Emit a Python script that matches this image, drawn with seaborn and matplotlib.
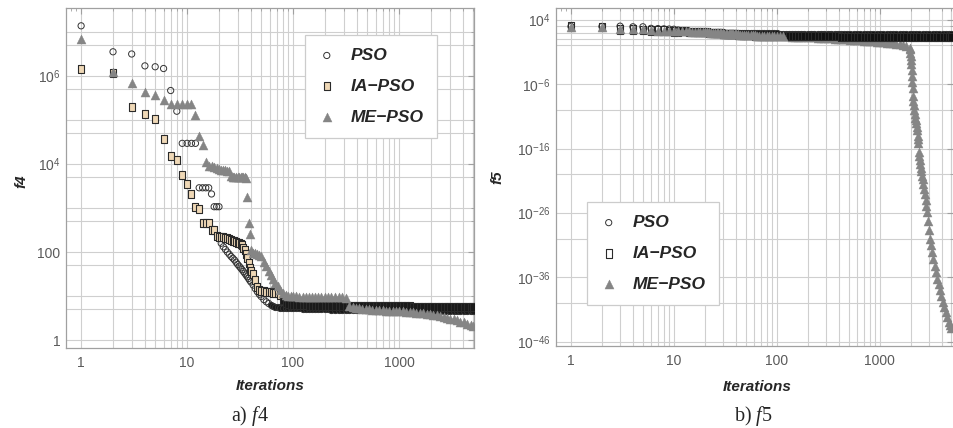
import numpy as np
import pandas as pd
import matplotlib
matplotlib.use("Agg")
import matplotlib.pyplot as plt
from matplotlib.path import Path
from matplotlib.ticker import NullFormatter, FixedLocator
import seaborn as sns

# ---------------- data (log10 of the objective value) ----------------
iters = [1, 2, 3, 4, 5, 6, 7, 8, 9, 10,
         11, 12, 13, 14, 15, 16, 17, 18, 19, 20,
         21, 22, 23, 24, 25, 26, 27, 28, 29, 30,
         31, 32, 33, 34, 35, 36, 37, 38, 39, 40,
         42, 44, 46, 48, 50, 53, 56, 59, 62, 65, 68, 72, 76, 80, 85, 90, 95, 100,
         107, 115, 123, 132, 141, 150, 160, 172, 185, 200,
         215, 230, 250, 270, 290, 315, 340, 365, 390, 420,
         450, 485, 520, 560, 600, 650, 700, 750, 810, 870,
         940, 1010, 1090, 1170, 1260, 1360, 1460, 1570, 1690, 1820,
         1960, 2110, 2270, 2440, 2630, 2830, 3050, 3280, 3530, 3800,
         4090, 4400, 4740, 5000]

f4_pso = [7.14, 6.55, 6.50, 6.23, 6.21, 6.17, 5.67, 5.20, 4.47, 4.47,
          4.47, 4.47, 3.46, 3.46, 3.46, 3.46, 3.32, 3.03, 3.03, 3.03,
          2.20, 2.12, 2.06, 2.00, 1.95, 1.90, 1.86, 1.82, 1.77, 1.72,
          1.68, 1.64, 1.60, 1.56, 1.52, 1.48, 1.44, 1.40, 1.36, 1.32,
          1.25, 1.17, 1.10, 1.04, 0.99, 0.92, 0.87, 0.83, 0.80, 0.78, 0.76, 0.75, 0.74, 0.73, 0.73, 0.72, 0.72, 0.72,
          0.72, 0.72, 0.71, 0.71, 0.71, 0.71, 0.70, 0.70, 0.70, 0.70,
          0.70, 0.69, 0.69, 0.69, 0.69, 0.69, 0.68, 0.68, 0.68, 0.68,
          0.68, 0.68, 0.68, 0.68, 0.67, 0.67, 0.67, 0.67, 0.67, 0.67,
          0.67, 0.67, 0.67, 0.67, 0.67, 0.66, 0.66, 0.66, 0.66, 0.66,
          0.66, 0.66, 0.66, 0.66, 0.66, 0.66, 0.66, 0.66, 0.66, 0.66,
          0.66, 0.66, 0.66, 0.66]

f4_iapso = [6.16, 6.06, 5.29, 5.14, 5.02, 4.56, 4.18, 4.09, 3.75, 3.54,
            3.31, 3.03, 2.97, 2.67, 2.67, 2.67, 2.50, 2.50, 2.36, 2.35,
            2.35, 2.34, 2.33, 2.31, 2.29, 2.27, 2.25, 2.24, 2.22, 2.21,
            2.20, 2.18, 2.15, 2.10, 2.04, 1.96, 1.86, 1.75, 1.64, 1.58,
            1.50, 1.36, 1.20, 1.13, 1.12, 1.11, 1.10, 1.10, 1.09, 1.08, 1.07, 1.06, 1.03, 0.92, 0.85, 0.82, 0.80, 0.79,
            0.79, 0.79, 0.79, 0.79, 0.78, 0.78, 0.78, 0.78, 0.78, 0.78,
            0.78, 0.78, 0.78, 0.78, 0.78, 0.77, 0.77, 0.77, 0.77, 0.77,
            0.77, 0.77, 0.77, 0.77, 0.77, 0.77, 0.77, 0.77, 0.77, 0.77,
            0.77, 0.77, 0.77, 0.77, 0.77, 0.76, 0.76, 0.76, 0.76, 0.76,
            0.76, 0.76, 0.76, 0.76, 0.76, 0.76, 0.76, 0.76, 0.76, 0.76,
            0.76, 0.76, 0.76, 0.76]

f4_mepso = [6.83, 6.10, 5.85, 5.64, 5.57, 5.45, 5.36, 5.36, 5.36, 5.36,
            5.36, 5.11, 4.64, 4.43, 4.05, 3.96, 3.95, 3.94, 3.90, 3.88,
            3.87, 3.86, 3.86, 3.85, 3.84, 3.72, 3.71, 3.71, 3.70, 3.70,
            3.70, 3.70, 3.70, 3.70, 3.70, 3.69, 3.26, 2.65, 2.42, 2.05,
            1.98, 1.97, 1.96, 1.94, 1.90, 1.78, 1.68, 1.58, 1.48, 1.39, 1.30, 1.22, 1.14, 1.08, 1.03, 1.01, 1.00, 1.00,
            1.00, 0.99, 0.99, 0.99, 0.99, 0.98, 0.98, 0.98, 0.98, 0.98,
            0.98, 0.97, 0.97, 0.97, 0.97, 0.96, 0.78, 0.75, 0.73, 0.72,
            0.71, 0.70, 0.70, 0.69, 0.69, 0.68, 0.68, 0.67, 0.67, 0.66,
            0.66, 0.65, 0.65, 0.64, 0.64, 0.63, 0.62, 0.62, 0.61, 0.60,
            0.59, 0.58, 0.56, 0.55, 0.53, 0.51, 0.49, 0.47, 0.45, 0.42,
            0.40, 0.37, 0.34, 0.32]

f5_pso = [2.95, 2.95, 3.00, 2.90, 2.90, 2.66, 2.62, 2.58, 2.55, 2.52,
          2.40, 2.36, 2.32, 2.28, 2.25, 2.22, 2.20, 2.18, 2.16, 2.14,
          2.12, 2.10, 2.09, 2.08, 2.07, 2.06, 2.05, 2.04, 2.03, 2.02,
          2.01, 2.00, 2.00, 1.99, 1.99, 1.98, 1.98, 1.97, 1.97, 1.96,
          1.96, 1.95, 1.95, 1.94, 1.94, 1.93, 1.93, 1.92, 1.92, 1.91, 1.91, 1.90, 1.90, 1.89, 1.89, 1.88, 1.88, 1.87,
          1.85, 1.84, 1.84, 1.84, 1.83, 1.83, 1.83, 1.82, 1.82, 1.82,
          1.81, 1.81, 1.81, 1.80, 1.80, 1.80, 1.80, 1.79, 1.79, 1.79,
          1.79, 1.79, 1.78, 1.78, 1.78, 1.78, 1.78, 1.77, 1.77, 1.77,
          1.77, 1.77, 1.76, 1.76, 1.76, 1.76, 1.76, 1.75, 1.75, 1.75,
          1.75, 1.75, 1.75, 1.75, 1.75, 1.75, 1.75, 1.75, 1.75, 1.75,
          1.75, 1.75, 1.75, 1.75]

f5_iapso = [2.90, 2.88, 2.50, 2.46, 2.42, 2.36, 2.32, 2.29, 2.26, 2.23,
            2.22, 2.20, 2.18, 2.16, 2.14, 2.12, 2.10, 2.08, 2.06, 2.04,
            2.02, 2.00, 1.98, 1.96, 1.94, 1.92, 1.90, 1.88, 1.86, 1.84,
            1.82, 1.80, 1.78, 1.77, 1.76, 1.75, 1.74, 1.73, 1.72, 1.71,
            1.70, 1.68, 1.66, 1.64, 1.62, 1.60, 1.58, 1.56, 1.54, 1.52, 1.50, 1.48, 1.47, 1.46, 1.45, 1.44, 1.43, 1.42,
            1.41, 1.40, 1.47, 1.46, 1.45, 1.45, 1.44, 1.44, 1.43, 1.43,
            1.42, 1.42, 1.41, 1.41, 1.41, 1.40, 1.40, 1.40, 1.40, 1.39,
            1.39, 1.39, 1.39, 1.38, 1.38, 1.38, 1.38, 1.37, 1.37, 1.37,
            1.37, 1.36, 1.36, 1.36, 1.36, 1.35, 1.35, 1.35, 1.35, 1.34,
            1.34, 1.34, 1.34, 1.33, 1.33, 1.33, 1.33, 1.32, 1.32, 1.32,
            1.32, 1.31, 1.31, 1.31]

# ME-PSO on f5: values on the common grid up to 1960, then the collapse
f5_mepso = [2.90, 2.88, 2.60, 2.50, 2.50, 2.36, 2.31, 2.28, 2.26, 2.25,
            2.24, 2.22, 2.20, 2.18, 2.16, 2.14, 2.12, 2.10, 2.08, 2.06,
            2.04, 2.02, 2.00, 1.98, 1.96, 1.94, 1.92, 1.90, 1.88, 1.86,
            1.84, 1.82, 1.80, 1.79, 1.78, 1.77, 1.76, 1.75, 1.74, 1.73,
            1.72, 1.70, 1.68, 1.66, 1.64, 1.62, 1.60, 1.58, 1.56, 1.54, 1.52, 1.50, 1.49, 1.48, 1.47, 1.46, 1.45, 1.44,
            1.43, 1.42, 1.41, 1.40, 1.39, 1.38, 1.37, 1.35, 1.33, 1.31,
            1.28, 1.26, 1.23, 1.20, 1.17, 1.14, 1.11, 1.08, 1.06, 1.03,
            1.00, 0.96, 0.92, 0.88, 0.84, 0.80, 0.76, 0.72, 0.68, 0.64,
            0.60, 0.55, 0.50, 0.45, 0.40, 0.34, 0.28, 0.20, 0.10, -0.05,
            -0.35]
f5_mepso_drop_iter = [1970, 1985, 2000, 2015, 2030, 2045, 2060, 2075, 2090, 2110,
                      2130, 2150, 2175, 2200, 2225, 2250, 2280, 2310, 2335, 2355,
                      2370, 2385, 2405, 2430, 2460, 2490, 2520, 2550, 2590, 2630,
                      2670, 2710, 2750, 2800, 2850, 2900, 2960, 3020, 3090, 3160,
                      3240, 3330, 3430, 3530, 3640, 3750, 3860, 3980, 4110, 4250,
                      4390, 4540, 4690, 4840, 5000]
f5_mepso_drop = [-0.6, -1.1, -1.7, -2.3, -2.8, -3.8, -4.7, -5.6, -6.6, -7.9,
                 -8.6, -9.3, -10.0, -10.7, -11.2, -11.6, -12.1, -12.6, -13.2, -14.0,
                 -14.6, -15.2, -16.6, -17.2, -17.8, -18.4, -19.0, -19.5, -20.2, -20.8,
                 -21.5, -22.3, -23.0, -24.0, -24.9, -25.9, -27.3, -28.6, -30.1, -31.0,
                 -32.0, -33.1, -34.2, -35.2, -36.2, -37.1, -38.0, -38.9, -39.8, -40.6,
                 -41.4, -42.2, -42.9, -43.4, -43.8]

series_names = ["PSO", "IA\u2212PSO", "ME\u2212PSO"]
f4_yticks = [1, 100, 1e4, 1e6]
f4_yticklabels = ["1", "100", "$10^{4}$", "$10^{6}$"]
f5_yticks = [1e4, 1e-6, 1e-16, 1e-26, 1e-36, 1e-46]
f5_yticklabels = ["$10^{4}$", "$10^{-6}$", "$10^{-16}$", "$10^{-26}$", "$10^{-36}$", "$10^{-46}$"]
x_ticks = [1, 10, 100, 1000]
x_ticklabels = ["1", "10", "100", "1000"]

# ---------------- style ----------------
sns.set_style("white")
plt.rcParams["font.family"] = ["Liberation Sans", "DejaVu Sans"]
plt.rcParams["mathtext.fontset"] = "custom"
plt.rcParams["mathtext.rm"] = "Liberation Sans"
plt.rcParams["mathtext.it"] = "Liberation Serif:italic"
plt.rcParams["mathtext.bf"] = "Liberation Sans:bold"

FRAME = "#a0a0a0"
GRID = "#cfcfcf"
TICKC = "#5a5a5a"
GRAY = "#858585"

rect = Path([(-0.32, -0.5), (0.32, -0.5), (0.32, 0.5), (-0.32, 0.5), (-0.32, -0.5)],
            [Path.MOVETO, Path.LINETO, Path.LINETO, Path.LINETO, Path.CLOSEPOLY])

fig = plt.figure(figsize=(9.54, 4.28), dpi=100)
axA = fig.add_axes([66 / 954, 1 - 348 / 428, 408 / 954, 340 / 428])
axB = fig.add_axes([556 / 954, 1 - 346 / 428, 397.5 / 954, 338 / 428])


def draw(ax, it, logs, marker, s, fc, ec, lw, dense_from, dense_fc, label, z, z_late=None):
    df = pd.DataFrame({"it": list(it)[:len(logs)], "val": np.power(10.0, logs)})
    early = df[df["it"] < dense_from]
    late = df[df["it"] >= dense_from]
    sns.scatterplot(data=early, x="it", y="val", marker=marker, s=s, facecolor=fc,
                    edgecolor=ec, linewidth=lw, ax=ax, label=label, zorder=z, legend=False)
    if len(late):
        sns.scatterplot(data=late, x="it", y="val", marker=marker, s=s, facecolor=dense_fc,
                        edgecolor=ec, linewidth=lw, ax=ax, label="_nolegend_",
                        zorder=z if z_late is None else z_late, legend=False)


# panel a
draw(axA, iters, f4_pso, "o", 20, "none", "#333333", 0.7, 60, "#1a1a1a", series_names[0], 3)
draw(axA, iters, f4_iapso, rect, 40, "#efd8b6", "#2a2a2a", 0.8, 80, "#1a1a1a", series_names[1], 4)
draw(axA, iters, f4_mepso, "^", 42, GRAY, GRAY, 0.3, 1e9, GRAY, series_names[2], 5)

# panel b
draw(axB, iters, f5_pso, "o", 20, "none", "#333333", 0.7, 12, "#111111", series_names[0], 3)
draw(axB, iters, f5_iapso, rect, 40, "none", "#2a2a2a", 0.8, 12, "#111111", series_names[1], 4)
draw(axB, iters, f5_mepso, "^", 42, GRAY, GRAY, 0.3, 120, GRAY, series_names[2], 6, z_late=2)
sns.scatterplot(x=f5_mepso_drop_iter, y=np.power(10.0, f5_mepso_drop), marker="^", s=42,
                color=GRAY, edgecolor=GRAY, linewidth=0.3, ax=axB, zorder=2, legend=False)


def style_axes(ax, xlim, ylim, yticks, yticklabels, ygrid, yminor):
    ax.set_xscale("log")
    ax.set_yscale("log")
    ax.set_xlim(*xlim)
    ax.set_ylim(*ylim)
    # grid
    xgrid = [m * 10 ** k for k in range(0, 4) for m in range(1, 10)] + [5000]
    for g in xgrid:
        ax.axvline(g, color=GRID, lw=0.8, zorder=0)
    for g in ygrid:
        ax.axhline(g, color=GRID, lw=0.8, zorder=0)
    ax.xaxis.set_major_locator(FixedLocator(x_ticks))
    ax.set_xticklabels(x_ticklabels)
    xminor = [0.8, 0.9] + [m * 10 ** k for k in range(0, 4) for m in range(2, 10)]
    ax.xaxis.set_minor_locator(FixedLocator([v for v in xminor if xlim[0] < v < xlim[1]]))
    ax.xaxis.set_minor_formatter(NullFormatter())
    ax.yaxis.set_major_locator(FixedLocator(yticks))
    ax.set_yticklabels(yticklabels)
    ax.yaxis.set_minor_locator(FixedLocator(yminor))
    ax.yaxis.set_minor_formatter(NullFormatter())
    ax.tick_params(which="both", direction="in", color=FRAME, top=True, right=True,
                   labelsize=10, labelcolor=TICKC)
    ax.tick_params(which="major", length=4.5, width=0.8)
    ax.tick_params(which="minor", length=2.5, width=0.6)
    ax.tick_params(axis="x", which="major", pad=6)
    ax.tick_params(axis="y", which="major", pad=4)
    for sp in ax.spines.values():
        sp.set_color(FRAME)
        sp.set_linewidth(0.9)
        sp.set_visible(True)
    ax.set_xlabel("Iterations", fontsize=11, fontweight="bold", fontstyle="italic")


f4_grid = [m * 10 ** k for k in range(0, 8) for m in (1, 5)]
style_axes(axA, (0.72, 5100), (10 ** -0.18, 10 ** 7.545), f4_yticks, f4_yticklabels,
           f4_grid, [g for g in f4_grid if g not in f4_yticks])

f5_grid = [1e4, 1e3, 1e2, 1e1, 1e0, 1e-6, 1e-10, 1e-16, 1e-20, 1e-26, 1e-30,
           1e-36, 1e-40, 1e-46]
style_axes(axB, (0.715, 5230), (10 ** -46.67, 10 ** 5.82), f5_yticks, f5_yticklabels,
           f5_grid, [g for g in f5_grid if g not in f5_yticks])
axB.spines["right"].set_visible(False)

axA.set_ylabel("f4", fontsize=11, fontweight="bold", fontstyle="italic")
axB.set_ylabel("f5", fontsize=11, fontweight="bold", fontstyle="italic")
axA.yaxis.set_label_coords(-0.092, 0.49)
axB.yaxis.set_label_coords(-0.13, 0.5)
axA.xaxis.set_label_coords(0.5, -0.092)
axB.xaxis.set_label_coords(0.505, -0.1)

legfont = {"family": "Liberation Sans", "weight": "bold", "style": "italic", "size": 12.5}
legend_order = [0, 1, 2]
for ax, anchor in ((axA, (0.586, 0.921)), (axB, (0.078, 0.426))):
    handles, labels = ax.get_legend_handles_labels()
    lookup = dict(zip(labels, handles))
    hs = [lookup[series_names[i]] for i in legend_order]
    leg = ax.legend(hs, [series_names[i] for i in legend_order],
                    loc="upper left", bbox_to_anchor=anchor, borderaxespad=0,
                    prop=legfont, frameon=True, fancybox=False, framealpha=1,
                    edgecolor="#cccccc", facecolor="white", borderpad=0.75,
                    labelspacing=0.9, handlelength=1.0, handletextpad=0.9,
                    scatterpoints=1)
    leg.get_frame().set_linewidth(0.9)
    leg.set_zorder(10)

fig.text(250 / 954, 1 - 416 / 428, "a) $\\mathit{f}$4", family="Liberation Serif",
         fontsize=14.5, ha="center", va="center")
fig.text(753 / 954, 1 - 416 / 428, "b) $\\mathit{f}$5", family="Liberation Serif",
         fontsize=14.5, ha="center", va="center")

fig.savefig("out.png", dpi=100)
